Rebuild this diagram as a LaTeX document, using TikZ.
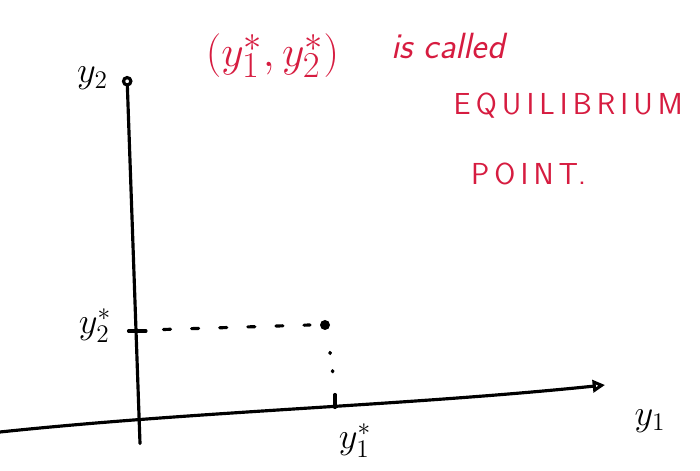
\documentclass[tikz,border=0pt]{standalone}
\usepackage{tikz}
\usetikzlibrary{arrows.meta, positioning, calc}
\definecolor{inkred}{RGB}{214, 28, 64}

\begin{document}
\begin{tikzpicture}[
  axis/.style={line width=1.8pt, black, line cap=round},
  guide/.style={line width=1.8pt, black, dash pattern=on 4pt off 12pt, line cap=round},
  dots/.style={line width=2pt, black, dash pattern=on 0.5pt off 10pt, line cap=round},
  lab/.style={font=\huge, black},
  note/.style={font=\huge\sffamily, inkred, anchor=west}
]
  \useasboundingbox (0,0) rectangle (14,9.42);

  % axes
  \coordinate (xstart) at (0,0.78);
  \coordinate (xend) at (12.1,1.72);
  \coordinate (ystart) at (2.8,0.55);
  \coordinate (yend) at (2.54,7.9);
  \draw[axis, -{Triangle[open, length=7pt, width=7pt]}]
    (xstart) .. controls (4,1.2) and (8,1.3) .. (xend);
  \draw[axis, -{Circle[open, length=6pt]}] (ystart) -- (yend);

  \node[lab] (ylab1) at (13.0,1.0) {$y_1$};
  \node[lab] (ylab2) at (1.85,7.85) {$y_2$};

  % equilibrium point
  \coordinate (tick2) at (2.72,2.8);
  \coordinate (tick1) at (6.7,1.4);
  \draw[axis] ($(tick2)+(-0.15,0)$) -- ($(tick2)+(0.2,0)$);
  \draw[axis] ($(tick1)+(0,-0.13)$) -- ($(tick1)+(0,0.13)$);
  \fill (6.5,2.92) circle (0.1) coordinate (pt);
  \draw[guide] ($(tick2)+(0.55,0.03)$) -- ($(pt)+(-0.3,0)$);
  \draw[dots] ($(pt)+(0.1,-0.55)$) -- ($(tick1)+(0,0.25)$);

  \node[lab] (ystar2) at (1.9,2.9) {$y_2^*$};
  \node[lab] (ystar1) at (7.1,0.6) {$y_1^*$};

  % note
  \node[note, anchor=center, font=\Huge] (pair) at (5.45,8.3) {$(y_1^*,y_2^*)$};
  \node[note] (called) at (7.7,8.5) {\itshape is called};
  \node[note, font=\LARGE\sffamily] (equi) at (8.95,7.3) {E\,Q\,U\,I\,L\,I\,B\,R\,I\,U\,M};
  \node[note, font=\LARGE\sffamily] (point) at (9.3,5.95) {P\,O\,I\,N\,T.};
\end{tikzpicture}
\end{document}
